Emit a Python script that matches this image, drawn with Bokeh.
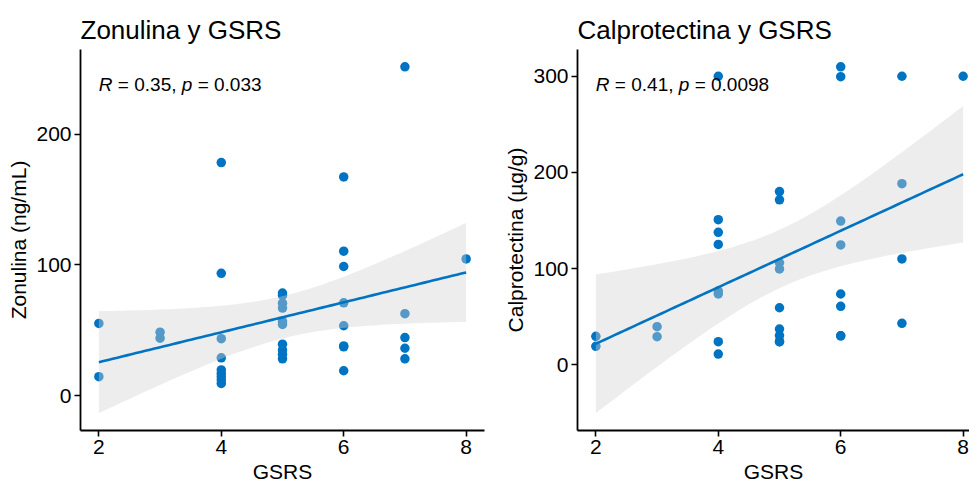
import numpy as np
from bokeh.plotting import figure
from bokeh.layouts import row
from bokeh.models import Range1d, Label, FixedTicker
from bokeh.embed import file_html
from bokeh.resources import INLINE

# ---------------- data ----------------
gsrs_zon = [2, 2,
            3, 3,
            4, 4, 4, 4, 4, 4, 4, 4, 4,
            5, 5, 5, 5, 5, 5, 5, 5, 5, 5,
            6, 6, 6, 6, 6, 6, 6, 6,
            7, 7, 7, 7, 7,
            8]
zonulina = [55.3, 14.6,
            48.6, 44.0,
            178.3, 93.6, 43.6, 29.0, 19.7, 17.0, 14.6, 12.0, 9.4,
            78.5, 76.7, 70.8, 67.0, 56.8, 54.5, 39.4, 35.0, 31.7, 28.2,
            167.3, 110.5, 98.8, 71.0, 53.5, 38.1, 37.4, 19.1,
            251.5, 62.7, 44.5, 36.3, 28.2,
            104.6]

gsrs_cal = [2, 2,
            3, 3,
            4, 4, 4, 4, 4, 4, 4, 4,
            5, 5, 5, 5, 5, 5, 5, 5, 5,
            6, 6, 6, 6, 6, 6, 6, 6,
            7, 7, 7, 7,
            8]
calprotectina = [29.5, 19.1,
                 39.5, 29.1,
                 300.0, 150.8, 137.7, 125.0, 76.5, 73.6, 23.9, 11.0,
                 180.0, 171.4, 106.0, 99.6, 59.2, 37.1, 30.2, 23.9, 23.9,
                 309.8, 299.5, 149.3, 124.5, 73.5, 60.7, 30.0, 30.0,
                 300.0, 188.3, 110.0, 43.0,
                 300.0]

x_ticks = [2, 4, 6, 8]
y_ticks_zon = [0, 100, 200]
y_ticks_cal = [0, 100, 200, 300]

titles = ["Zonulina y GSRS", "Calprotectina y GSRS"]
y_labels = ["Zonulina (ng/mL)", "Calprotectina (\u00b5g/g)"]
x_label = "GSRS"
stats_zon = ("R", "= 0.35,", "p", "= 0.033")
stats_cal = ("R", "= 0.41,", "p", "= 0.0098")

BLUE = "#0073C2"
FONT = "Liberation Sans"


def t975(df):
    z = 1.959964
    return (z + (z**3 + z) / (4 * df) + (5 * z**5 + 16 * z**3 + 3 * z) / (96 * df**2)
            + (3 * z**7 + 19 * z**5 + 17 * z**3 - 15 * z) / (384 * df**3))


def fit(xv, yv):
    x = np.asarray(xv, float)
    y = np.asarray(yv, float)
    n = len(x)
    b, a = np.polyfit(x, y, 1)
    res = y - (a + b * x)
    s = np.sqrt(np.sum(res**2) / (n - 2))
    xm = x.mean()
    sxx = np.sum((x - xm) ** 2)
    xs = np.linspace(x.min(), x.max(), 80)
    yh = a + b * xs
    se = s * np.sqrt(1.0 / n + (xs - xm) ** 2 / sxx)
    t = t975(n - 2)
    return xs, yh, yh - t * se, yh + t * se


def panel(xv, yv, title, ylab, yticks, stats, width, mb_left, mb_right, x_clip_frac):
    xs, yh, lo, hi = fit(xv, yv)
    xmin, xmax = min(xv), max(xv)
    xpad = 0.05 * (xmax - xmin)
    x0, x1 = xmin - xpad, xmax + xpad
    x1 = x0 + (x1 - x0) * x_clip_frac
    ylo = min(min(yv), lo.min())
    yhi = max(max(yv), hi.max())
    ypad = 0.05 * (yhi - ylo)
    y0, y1 = ylo - ypad, yhi + ypad

    p = figure(width=width, height=487, output_backend="svg", toolbar_location=None,
               x_range=Range1d(x0, x1), y_range=Range1d(y0, y1),
               min_border_left=mb_left, min_border_right=mb_right,
               min_border_top=49, min_border_bottom=57,
               title=title)
    p.title.text_font = FONT
    p.title.text_font_size = "26px"
    p.title.text_font_style = "normal"
    p.title.text_color = "black"
    p.grid.visible = False
    p.outline_line_color = None
    p.background_fill_color = "white"
    p.border_fill_color = "white"

    p.scatter(xv, yv, size=9.5, color=BLUE, line_color=None)
    p.varea(x=xs, y1=lo, y2=hi, fill_color="#D3D3D3", fill_alpha=0.4)
    p.line(xs, yh, line_width=2.6, color=BLUE)

    for ax in (p.xaxis[0], p.yaxis[0]):
        ax.axis_line_width = 1.8
        ax.axis_line_color = "black"
        ax.major_tick_line_width = 1.6
        ax.major_tick_line_color = "black"
        ax.major_tick_out = 6
        ax.major_tick_in = 0
        ax.minor_tick_out = 0
        ax.minor_tick_in = 0
        ax.major_label_text_font = FONT
        ax.major_label_text_font_size = "21px"
        ax.major_label_text_color = "black"
        ax.major_label_standoff = 3
        ax.axis_label_text_font = FONT
        ax.axis_label_text_font_size = "21px"
        ax.axis_label_text_font_style = "normal"
        ax.axis_label_text_color = "black"
        ax.axis_label_standoff = 3
    p.xaxis.ticker = FixedTicker(ticks=x_ticks)
    p.yaxis.ticker = FixedTicker(ticks=yticks)
    p.xaxis.axis_label = x_label
    p.yaxis.axis_label = ylab

    # correlation label, R and p in italics
    S = 19
    lx = xmin
    ly = y0 + 0.907 * (y1 - y0)
    offsets = [0, 1.0 * S, 4.364 * S, 5.198 * S]
    styles = ["italic", "normal", "italic", "normal"]
    for txt, off, st in zip(stats, offsets, styles):
        p.add_layout(Label(x=lx, y=ly, x_offset=off, text=txt, text_font=FONT,
                           text_font_size=f"{S}px", text_font_style=st,
                           text_color="black", text_align="left",
                           text_baseline="alphabetic"))
    return p


p1 = panel(gsrs_zon, zonulina, titles[0], y_labels[0], y_ticks_zon, stats_zon,
           width=489, mb_left=80, mb_right=5, x_clip_frac=1.0)
p2 = panel(gsrs_cal, calprotectina, titles[1], y_labels[1], y_ticks_cal, stats_cal,
           width=480, mb_left=88, mb_right=0, x_clip_frac=392 / 404)

layout = row(p1, p2, spacing=0)
open("out.html", "w").write(file_html(layout, INLINE))
